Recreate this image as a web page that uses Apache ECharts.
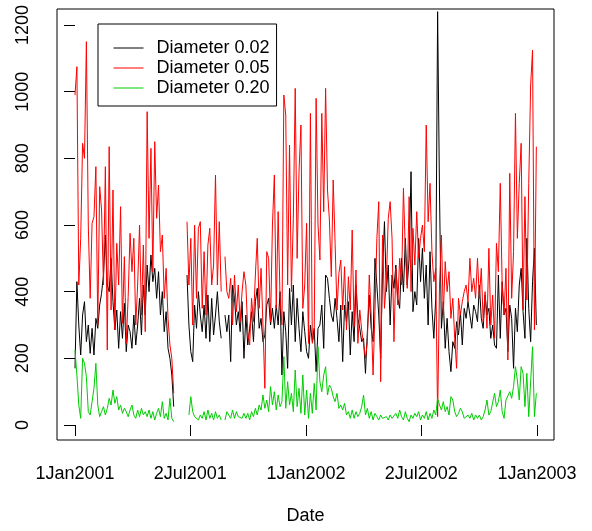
<!DOCTYPE html>
<html><head><meta charset="utf-8">
<script src="https://cdn.jsdelivr.net/npm/echarts@6/dist/echarts.min.js"></script>
<style>html,body{margin:0;padding:0;background:#fff}#c{width:592px;height:531px}</style>
</head><body><div id="c"></div>
<script>
// x positions: days since 1 Jan 2001, one sample every 3 days
const sampleStep = 3;
const tickDays = [0, 182, 365, 547, 730];
const tickLabels = ['1Jan2001', '2Jul2001', '1Jan2002', '2Jul2002', '1Jan2003'];
const yTicks = [0, 200, 400, 600, 800, 1000, 1200];
const seriesNames = ['Diameter 0.02', 'Diameter 0.05', 'Diameter 0.20'];
const seriesColors = ['#000000', '#ff0000', '#00cd00'];

const d002 = [
  170,430,300,210,330,370,250,300,215,290,210,320,290,360,395,450,570,420,400,500,370,285,345,230,340,260,365,220,300,280,
  230,330,240,300,380,270,420,330,480,400,510,430,470,380,460,330,400,280,340,230,200,150,55,
  null,null,null,null,null,null,
  450,300,220,190,360,290,400,330,280,360,260,390,250,380,270,330,400,310,260,null,330,280,330,190,420,380,300,340,280,370,200,
  330,240,290,340,250,370,410,290,320,250,270,360,380,300,350,290,360,300,400,150,340,280,170,410,300,420,250,380,290,220,340,
  280,220,200,300,250,290,160,290,300,360,230,450,440,380,330,310,380,320,250,360,190,360,310,370,210,340,250,420,320,290,250,
  260,155,280,390,290,250,500,420,330,200,460,610,400,480,300,450,410,480,380,350,500,400,560,420,500,760,340,400,360,560,
  430,530,380,480,300,520,350,260,380,1240,690,290,370,230,320,220,160,250,230,310,270,340,240,350,320,370,330,290,360,340,310,
  420,320,290,390,330,350,260,300,240,230,450,260,430,330,350,220,360,320,170,350,280,420,470,340,260,560,350,250,430,530,300
];
const d005 = [
  990,1075,420,560,845,800,1150,600,380,605,625,775,300,715,645,420,775,225,835,345,705,285,545,420,655,305,505,245,385,575,
  460,560,300,420,600,330,540,280,940,560,830,460,850,620,720,520,570,380,470,320,240,200,95,
  null,null,null,null,null,null,
  610,420,560,300,600,380,590,610,350,520,330,540,590,420,480,750,420,610,400,null,505,400,380,440,300,450,340,420,310,400,460,
  420,280,240,380,310,450,560,350,470,300,110,520,500,310,600,750,350,640,380,300,990,930,420,840,400,620,1010,500,760,900,350,
  420,605,245,935,245,275,980,600,495,935,640,1010,705,615,445,735,545,345,455,495,345,475,285,445,345,585,295,465,245,345,285,
  280,200,250,450,330,150,340,560,670,130,570,350,430,620,670,560,250,470,360,500,420,710,520,410,685,400,590,480,640,500,
  560,600,520,900,610,725,520,430,470,25,420,570,330,490,400,460,320,380,260,170,380,330,370,400,420,370,500,400,440,380,500,
  380,470,310,400,290,530,300,390,260,545,460,725,420,330,470,195,755,380,520,935,560,725,845,345,685,375,725,1020,1125,285,835
];
const d020 = [
  225,150,60,20,200,185,145,40,30,70,110,185,60,25,40,55,30,50,80,60,105,65,85,45,60,35,50,40,25,45,
  60,30,20,45,25,50,30,40,25,45,20,40,15,35,50,25,70,20,35,15,80,20,10,
  null,null,null,null,null,null,
  null,30,85,40,25,20,15,30,20,40,15,45,20,35,15,40,20,30,15,null,15,40,35,20,45,20,40,25,30,20,35,
  20,35,15,40,25,50,30,60,45,90,50,75,40,115,60,100,45,90,55,70,205,50,130,60,95,40,165,55,110,35,150,
  30,105,20,95,35,125,45,235,130,100,150,175,90,120,110,85,70,95,50,60,45,65,30,40,20,45,20,40,25,35,55,
  90,30,50,20,40,15,35,25,15,30,20,15,25,15,30,20,15,35,20,45,25,15,40,20,10,30,20,35,25,40,
  15,30,20,40,15,35,20,45,30,80,60,45,70,40,55,30,85,75,40,25,35,50,40,20,15,30,20,35,15,30,20,
  30,15,25,45,75,30,40,45,95,55,70,105,40,20,75,70,100,80,115,175,135,75,175,155,55,155,25,20,235,25,95
];

const days = d002.map((_, i) => i * sampleStep);
const FONT = 'Liberation Sans, Arial, Helvetica, sans-serif';

const chart = echarts.init(document.getElementById('c'), null, {renderer: 'canvas'});
const allData = [d002, d005, d020];
chart.setOption({
  animation: false,
  backgroundColor: '#ffffff',
  grid: {left: 57, right: 38, top: 9, bottom: 91, show: true, borderColor: '#000', borderWidth: 1,
         backgroundColor: 'transparent', containLabel: false, outerBoundsMode: 'none'},
  legend: {
    orient: 'vertical', left: 98, top: 24, padding: [15, 7, 9, 15],
    itemWidth: 30, itemHeight: 14, itemGap: 2,
    itemStyle: {opacity: 0},
    lineStyle: {width: 1},
    backgroundColor: '#fff', borderColor: '#000', borderWidth: 1, borderRadius: 0,
    textStyle: {fontFamily: FONT, fontSize: 18, color: '#000', padding: [0, 0, 0, 8]},
    data: seriesNames, selectedMode: false
  },
  xAxis: {
    type: 'value', min: -28.44, max: 756.9,
    name: 'Date', nameLocation: 'middle', nameGap: 67,
    nameTextStyle: {fontFamily: FONT, fontSize: 18, color: '#000'},
    axisLine: {show: false}, splitLine: {show: false},
    axisTick: {show: true, length: 11, customValues: tickDays, lineStyle: {color: '#000', width: 1}},
    axisLabel: {customValues: tickDays, margin: 25, fontFamily: FONT, fontSize: 18, color: '#000',
      formatter: v => tickLabels[tickDays.indexOf(v)]}
  },
  yAxis: {
    type: 'value', min: -45, max: 1248,
    axisLine: {show: false}, splitLine: {show: false},
    axisTick: {show: true, length: 11, customValues: yTicks, lineStyle: {color: '#000', width: 1}},
    axisLabel: {customValues: yTicks, rotate: 90, margin: 25, fontFamily: FONT, fontSize: 18, color: '#000',
      formatter: v => String(v)}
  },
  series: seriesNames.map((name, k) => ({
    name, type: 'line', symbol: 'none', showSymbol: false, connectNulls: false,
    color: seriesColors[k],
    lineStyle: {color: seriesColors[k], width: 1},
    emphasis: {disabled: true}, silent: true, z: 2 + k,
    data: days.map((d, i) => [d, allData[k][i]])
  }))
});
</script>
</body></html>
